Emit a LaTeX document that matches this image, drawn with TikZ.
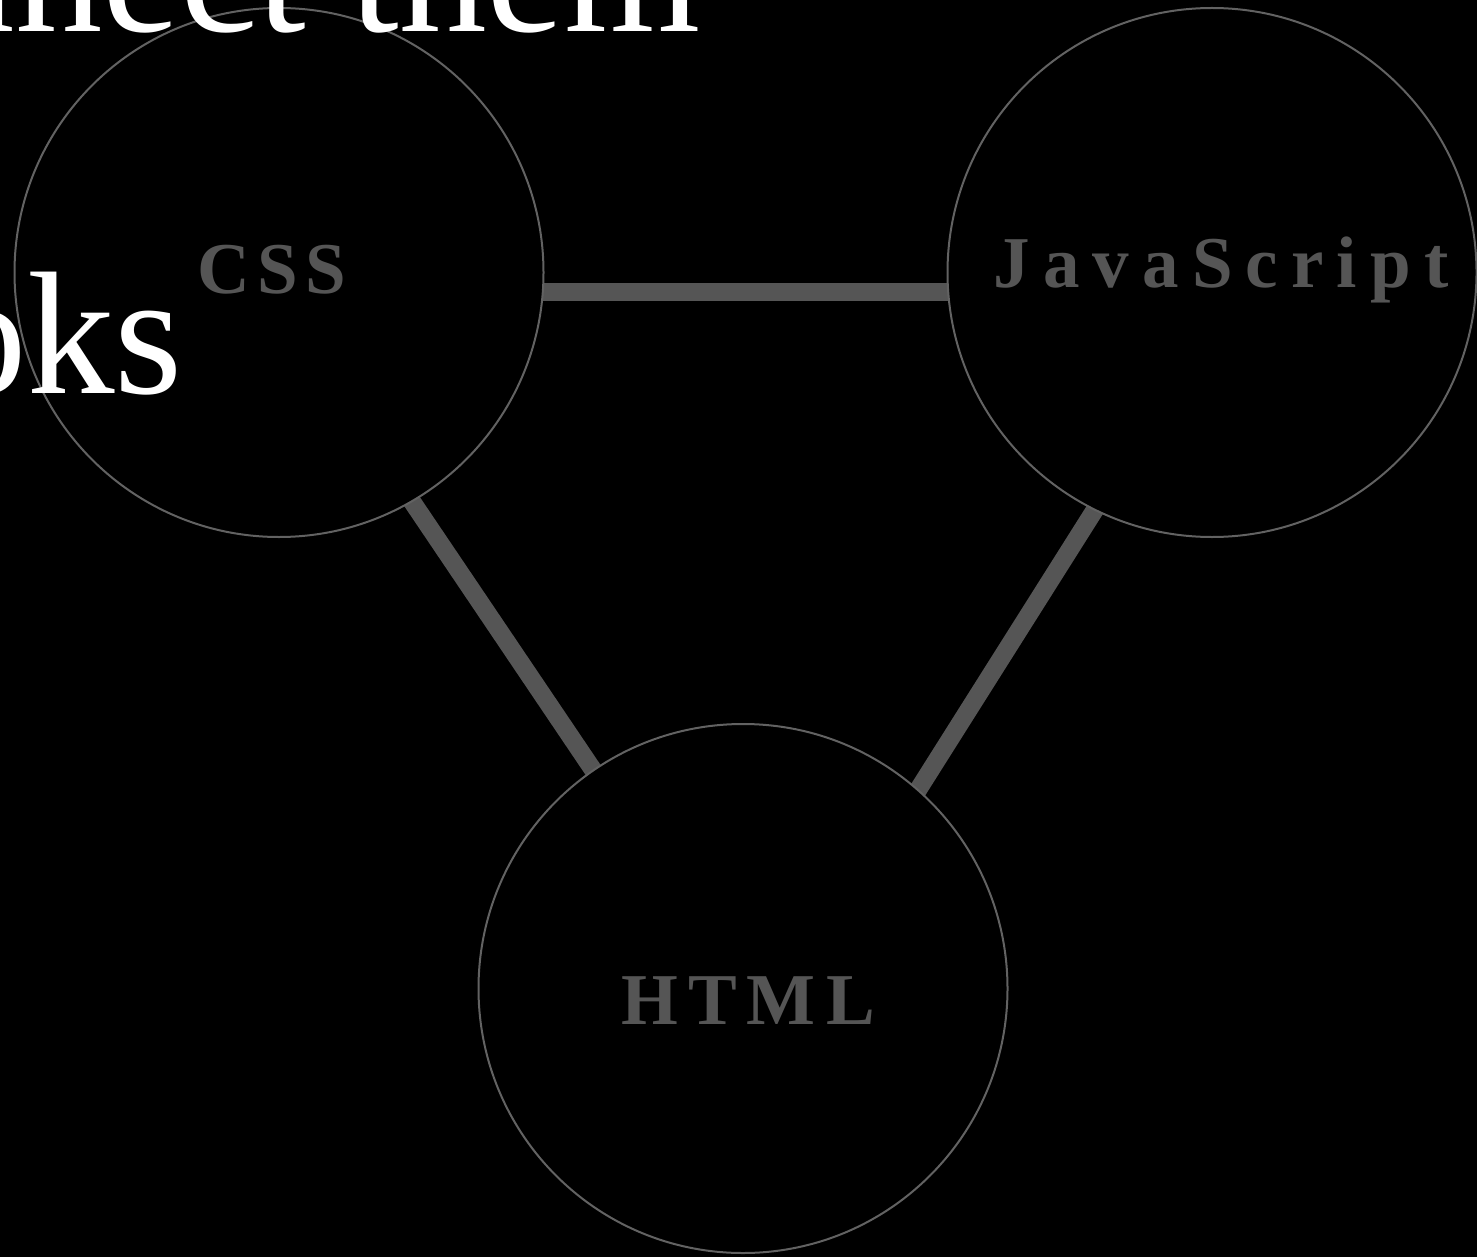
\documentclass[tikz,border=0pt]{standalone}
\usepackage{fontspec}
\setmainfont{Liberation Serif}
\newfontfamily\labelcss[LetterSpace=10]{Liberation Serif}
\newfontfamily\labeljs[LetterSpace=18]{Liberation Serif}
\newfontfamily\labelhtml[LetterSpace=14]{Liberation Serif}
\usetikzlibrary{calc}
\pgfdeclarelayer{bg}
\pgfsetlayers{bg,main}
\definecolor{linkgray}{RGB}{85,85,85}
\definecolor{ringgray}{RGB}{98,98,98}
\begin{document}
\begin{tikzpicture}[x=0.5pt,y=-0.5pt,
  ring/.style={circle,draw=ringgray,line width=1pt,fill=black,minimum size=264.5pt,inner sep=0pt},
  link/.style={draw=linkgray,line width=9pt},
  lbl/.style={text=linkgray,anchor=base,inner sep=0pt},
  lblsize/.style={font=#1\bfseries\fontsize{36.5}{40}\selectfont},
  big/.style={text=white,font=\fontsize{87.5}{90}\selectfont,anchor=base west,inner sep=0pt}]
\useasboundingbox (0,0) rectangle (1477,1257);
\clip (0,0) rectangle (1477,1257);
% circles
\node[ring] (css) at (279,272.5) {};
\node[ring] (js) at (1212,272.5) {};
\node[ring] (html) at (743,988.5) {};
% connectors behind circles
\begin{pgfonlayer}{bg}
\fill[black] (0,0) rectangle (1477,1257);
\draw[link] ($(css)+(0,19.5)$) -- ($(js)+(0,19.5)$);
\draw[link] ($(css)+(-9,18.5)$) -- ($(html)+(10,18.5)$);
\draw[link] ($(js)+(21,18.5)$) -- ($(html)+(38,18.5)$);
\end{pgfonlayer}
% labels
\node[lbl,lblsize=\labelcss] (lcss) at (272,293) {CSS};
\node[lbl,lblsize=\labeljs] (ljs) at (1221,287) {JavaScript};
\node[lbl,lblsize=\labelhtml] (lhtml) at (748,1024) {HTML};
% background text on top
\node[big] (t1) at (-238,32) {connect them};
\node[big] (t2) at (-197,393) {looks};
\end{tikzpicture}
\end{document}
